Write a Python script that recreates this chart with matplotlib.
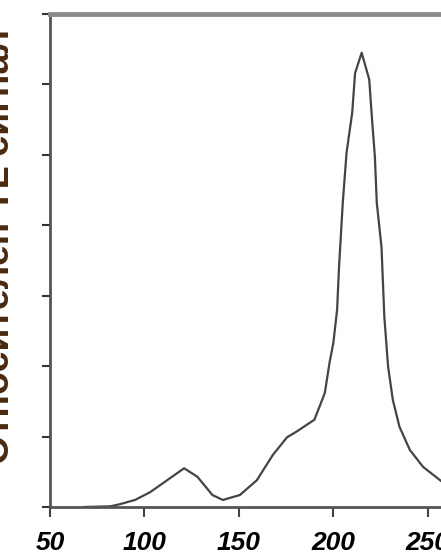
import matplotlib.pyplot as plt

# TL glow curve
temp = [68, 82, 87, 95, 103, 112, 121, 128, 136, 141.5, 150.5, 159.5, 168, 175.5,
        180.5, 190, 195.5, 198, 200, 202, 203, 205, 207, 210, 211.5, 215,
        219, 220.5, 222, 223, 225.5, 227, 229, 231.5, 235, 240.5, 247.5, 257]
signal = [0, 0.01, 0.04, 0.10, 0.21, 0.38, 0.55, 0.43, 0.17, 0.10, 0.17, 0.38, 0.74, 0.99,
          1.07, 1.24, 1.62, 2.05, 2.33, 2.80, 3.4, 4.32, 5.03, 5.60, 6.16, 6.45,
          6.07, 5.50, 4.97, 4.32, 3.69, 2.70, 1.99, 1.52, 1.14, 0.81, 0.57, 0.37]
xticks = [50, 100, 150, 200, 250]
yticks = [0, 1, 2, 3, 4, 5, 6, 7]

fig = plt.figure(figsize=(4.41, 5.59), dpi=100)
ax = fig.add_axes([50/441, 52/559, 1 - 50/441, (507 - 14)/559])

ax.plot(temp, signal, color='#444444', lw=1.6)

ax.set_xlim(50, 257)
ax.set_ylim(0, 7)
ax.set_xticks(xticks)
ax.set_yticks(yticks)
ax.set_yticklabels([])
ax.set_xticklabels([str(t) for t in xticks], fontsize=19, fontstyle='italic',
                   fontweight='bold', family='Liberation Sans')

ax.spines['right'].set_visible(False)
ax.spines['top'].set_color('#8c8c8c')
ax.spines['top'].set_linewidth(3.5)
ax.spines['left'].set_color('#555555')
ax.spines['left'].set_linewidth(2)
ax.spines['bottom'].set_color('#555555')
ax.spines['bottom'].set_linewidth(2)
ax.tick_params(axis='x', length=7, width=1.5, color='#444444', pad=10)
ax.tick_params(axis='y', length=6, width=1.5, color='#333333')

fig.text(17/441, 0.56, 'Относителен TL сигнал', rotation=90, ha='right', va='center',
         fontsize=27, fontweight='bold', color='#4a2a0e', family='Liberation Sans')

fig.savefig('out.png', dpi=100)
